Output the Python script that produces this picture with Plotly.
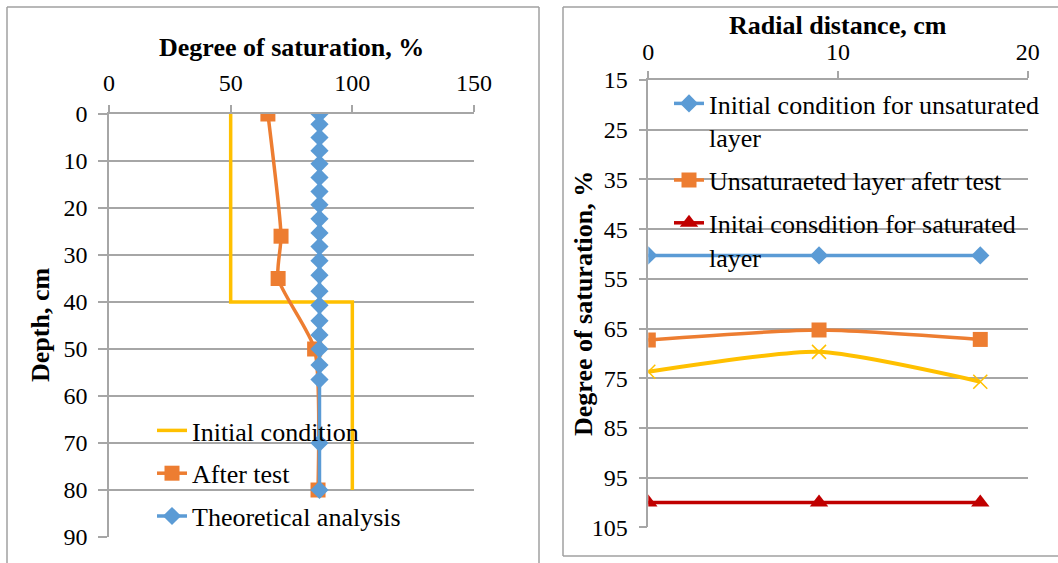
import plotly.graph_objects as go

# ---------------- data ----------------
# Left chart: depth profiles
init_sat = [50, 50, 100, 100]
init_depth = [0, 40, 40, 80]

after_sat = [65.3, 70.7, 69.5, 84.5, 85.9]
after_depth = [0, 26, 35, 50, 80]

theo_depth = [0, 2.2, 5, 7.8, 10.6, 13.5, 16.5, 19.3, 22.3, 25.3, 28.2, 31.2, 34.3,
              37.7, 40.7, 44, 47, 50, 53.4, 56.5, 70, 80]
theo_sat = [86.5] * len(theo_depth)

# Right chart: radial profiles
radial = [0, 9, 17.5]
unsat_init = [50.3, 50.3, 50.3]
unsat_after = [67.3, 65.3, 67.2]
sat_init = [100, 100, 100]
yellow_series = [73.7, 69.7, 75.7]

left_xticks = [0, 50, 100, 150]
left_yticks = [0, 10, 20, 30, 40, 50, 60, 70, 80, 90]
right_xticks = [0, 10, 20]
right_yticks = [15, 25, 35, 45, 55, 65, 75, 85, 95, 105]

# ---------------- style ----------------
W, H = 1058, 563
FONT = "Liberation Serif, Times New Roman, serif"
BLUE = "#5B9BD5"
ORANGE = "#ED7D31"
YELLOW = "#FFC000"
RED = "#C00000"
GRID = "#A6A6A6"
BORDER = "#A0A0A0"


def fx(p):
    return p / W


def fy(p):
    return 1 - p / H


fig = go.Figure()

# Left traces
fig.add_trace(go.Scatter(x=init_sat, y=init_depth, mode="lines", name="Initial condition",
                         line=dict(color=YELLOW, width=3.5), xaxis="x", yaxis="y",
                         legend="legend", legendgroup="a"))
fig.add_trace(go.Scatter(x=after_sat, y=after_depth, mode="lines+markers", name="After test",
                         line=dict(color=ORANGE, width=3.5, shape="spline", smoothing=0.6),
                         marker=dict(symbol="square", size=15, color=ORANGE),
                         xaxis="x", yaxis="y", legend="legend", legendgroup="b"))
fig.add_trace(go.Scatter(x=theo_sat, y=theo_depth, mode="lines+markers", name="Theoretical analysis",
                         line=dict(color=BLUE, width=3.5),
                         marker=dict(symbol="diamond", size=14, color=BLUE),
                         xaxis="x", yaxis="y", legend="legend", legendgroup="c"))

# Right traces
fig.add_trace(go.Scatter(x=radial, y=unsat_init, mode="lines+markers",
                         name="Initial condition for unsaturated<br>layer",
                         line=dict(color=BLUE, width=3.5),
                         marker=dict(symbol="diamond", size=14, color=BLUE),
                         xaxis="x2", yaxis="y2", legend="legend2", legendgroup="d"))
fig.add_trace(go.Scatter(x=radial, y=unsat_after, mode="lines+markers",
                         name="Unsaturaeted layer afetr test",
                         line=dict(color=ORANGE, width=3.5, shape="spline", smoothing=0.6),
                         marker=dict(symbol="square", size=15, color=ORANGE),
                         xaxis="x2", yaxis="y2", legend="legend2", legendgroup="e"))
fig.add_trace(go.Scatter(x=radial, y=sat_init, mode="lines+markers",
                         name="Initai consdition for saturated<br>layer",
                         line=dict(color=RED, width=3.5),
                         marker=dict(symbol="triangle-up", size=16, color=RED),
                         xaxis="x2", yaxis="y2", legend="legend2", legendgroup="f"))
fig.add_trace(go.Scatter(x=radial, y=yellow_series, mode="lines+markers", name="",
                         line=dict(color=YELLOW, width=4, shape="spline", smoothing=0.6),
                         marker=dict(symbol="x-thin", size=14, color=YELLOW,
                                     line=dict(color=YELLOW, width=1.5)),
                         xaxis="x2", yaxis="y2", showlegend=False))

tickfont = dict(family=FONT, size=24, color="black")
axis_common = dict(showline=True, linecolor=GRID, linewidth=1.5, ticks="outside",
                   tickcolor=GRID, tickwidth=1.5, zeroline=False, tickfont=tickfont,
                   automargin=False)

fig.update_layout(
    width=W, height=H,
    margin=dict(l=0, r=0, t=0, b=0, autoexpand=False),
    paper_bgcolor="white", plot_bgcolor="white",
    font=dict(family=FONT, color="black"),
    xaxis=dict(domain=[fx(109), fx(474)], range=[0, 150], tickvals=left_xticks,
               side="top", anchor="y", showgrid=False, ticklen=7, ticklabelstandoff=5,
               **axis_common),
    yaxis=dict(domain=[fy(537), fy(114)], range=[90, 0], tickvals=left_yticks,
               anchor="x", showgrid=True, gridcolor=GRID, gridwidth=1.5, ticklen=9,
               ticklabelstandoff=6, **axis_common),
    xaxis2=dict(domain=[fx(648.3), fx(1027.7)], range=[0, 20], tickvals=right_xticks,
                side="top", anchor="y2", showgrid=False, ticklen=7, ticklabelstandoff=2,
                **axis_common),
    yaxis2=dict(domain=[fy(527.3), fy(80)], range=[105, 15], tickvals=right_yticks,
                anchor="x2", showgrid=True, gridcolor=GRID, gridwidth=1.5, ticklen=8,
                ticklabelstandoff=6, **axis_common),
    legend=dict(x=fx(152), y=fy(407), xanchor="left", yanchor="top",
                bgcolor="rgba(0,0,0,0)", font=dict(family=FONT, size=26, color="black"),
                tracegroupgap=6, itemwidth=30),
    legend2=dict(x=fx(669), y=fy(80), xanchor="left", yanchor="top", valign="top",
                 bgcolor="rgba(0,0,0,0)", font=dict(family=FONT, size=26, color="black"),
                 tracegroupgap=6, itemwidth=30),
    showlegend=True,
)

# Axis titles
titlefont = dict(family=FONT, size=26, color="black")
fig.add_annotation(text="<b>Degree of saturation, %</b>", x=fx(291.5), y=fy(47),
                   xref="paper", yref="paper", showarrow=False, font=titlefont,
                   xanchor="center", yanchor="middle")
fig.add_annotation(text="<b>Depth, cm</b>", x=fx(40), y=fy(325), textangle=-90,
                   xref="paper", yref="paper", showarrow=False, font=titlefont,
                   xanchor="center", yanchor="middle")
fig.add_annotation(text="<b>Radial distance, cm</b>", x=fx(838), y=fy(26),
                   xref="paper", yref="paper", showarrow=False, font=titlefont,
                   xanchor="center", yanchor="middle")
fig.add_annotation(text="<b>Degree of saturation, %</b>", x=fx(583), y=fy(304), textangle=-90,
                   xref="paper", yref="paper", showarrow=False, font=titlefont,
                   xanchor="center", yanchor="middle")

# Chart borders
bl = dict(color=BORDER, width=1.5)
shapes = [
    dict(type="line", xref="paper", yref="paper", x0=fx(7), x1=fx(539), y0=fy(7), y1=fy(7), line=bl),
    dict(type="line", xref="paper", yref="paper", x0=fx(7), x1=fx(7), y0=fy(7), y1=fy(570), line=bl),
    dict(type="line", xref="paper", yref="paper", x0=fx(539), x1=fx(539), y0=fy(7), y1=fy(570), line=bl),
    dict(type="line", xref="paper", yref="paper", x0=fx(563), x1=fx(1065), y0=fy(7), y1=fy(7), line=bl),
    dict(type="line", xref="paper", yref="paper", x0=fx(563), x1=fx(563), y0=fy(7), y1=fy(556), line=bl),
    dict(type="line", xref="paper", yref="paper", x0=fx(563), x1=fx(1065), y0=fy(556), y1=fy(556), line=bl),
]
fig.update_layout(shapes=shapes)

fig.write_html("out.html")
